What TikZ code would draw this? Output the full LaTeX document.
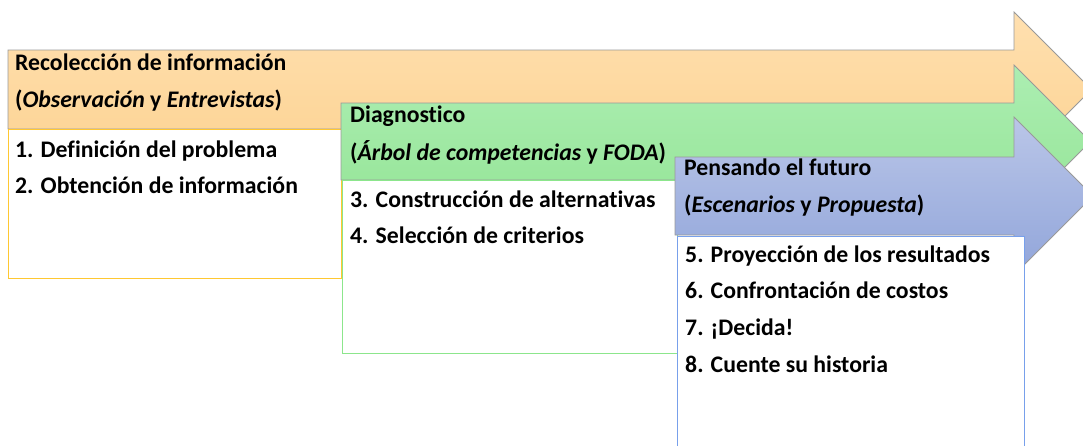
\documentclass[tikz,border=0pt]{standalone}
\usepackage{fontspec}
\setmainfont[Ligatures=CommonOff]{Carlito}
\begin{document}
\begin{tikzpicture}[x=1pt,y=-1pt,
  hdr/.style={anchor=base west,inner sep=0pt,font=\bfseries\fontsize{23.75}{26}\selectfont,text=black},
  item/.style={anchor=base west,inner sep=0pt,font=\bfseries\fontsize{23.75}{26}\selectfont,text=black},
  arrowline/.style={draw=black!40,line width=0.8pt},
  boxline/.style={line width=1pt,fill=white}]
\definecolor{oTop}{RGB}{255,224,176}
\definecolor{oBot}{RGB}{252,210,145}
\definecolor{gTop}{RGB}{172,238,178}
\definecolor{gBot}{RGB}{148,228,150}
\definecolor{bTop}{RGB}{186,198,232}
\definecolor{bBot}{RGB}{145,165,218}
\definecolor{oBox}{RGB}{255,200,50}
\definecolor{gBox}{RGB}{140,230,140}
\definecolor{bBox}{RGB}{120,160,235}
\useasboundingbox (0,0) rectangle (1083,445);
\clip (0,0) rectangle (1083,445);
% orange arrow
\shade[top color=oTop,bottom color=oBot,arrowline]
  (8,50) -- (1014,50) -- (1014,12) -- (1091.5,89.5) -- (1014,167) -- (1014,129) -- (8,129) -- cycle;
\draw[boxline,draw=oBox] (8,129) rectangle (341,278);
\node[hdr] (h1a) at (15,70) {Recolección de información};
\node[hdr] (h1b) at (15,107) {(\textit{Observación} y \textit{Entrevistas})};
\node[item] (i1) at (15,157) {1. Definición del problema};
\node[item] (i2) at (15,193) {2. Obtención de información};
% green arrow
\shade[top color=gTop,bottom color=gBot,arrowline]
  (341,103) -- (1014,103) -- (1014,65) -- (1090.5,141.5) -- (1014,218) -- (1014,180) -- (341,180) -- cycle;
\draw[boxline,draw=gBox] (342,180) rectangle (677,353);
\node[hdr] (h2a) at (350,122) {Diagnostico};
\node[hdr] (h2b) at (350,160) {(\textit{Árbol de competencias} y \textit{FODA})};
\node[item] (i3) at (350,207) {3. Construcción de alternativas};
\node[item] (i4) at (350,243) {4. Selección de criterios};
% blue arrow
\shade[top color=bTop,bottom color=bBot,arrowline]
  (675,157) -- (1014,157) -- (1014,117) -- (1093,196) -- (1014,275) -- (1014,235) -- (675,235) -- cycle;
\draw[boxline,draw=bBox] (677,236) rectangle (1024,460);
\node[hdr] (h3a) at (684,175) {Pensando el futuro};
\node[hdr] (h3b) at (684,212) {(\textit{Escenarios} y \textit{Propuesta})};
\node[item] (i5) at (685,262) {5. Proyección de los resultados};
\node[item] (i6) at (685,298) {6. Confrontación de costos};
\node[item] (i7) at (685,335) {7. ¡Decida!};
\node[item] (i8) at (685,372) {8. Cuente su historia};
\end{tikzpicture}
\end{document}
